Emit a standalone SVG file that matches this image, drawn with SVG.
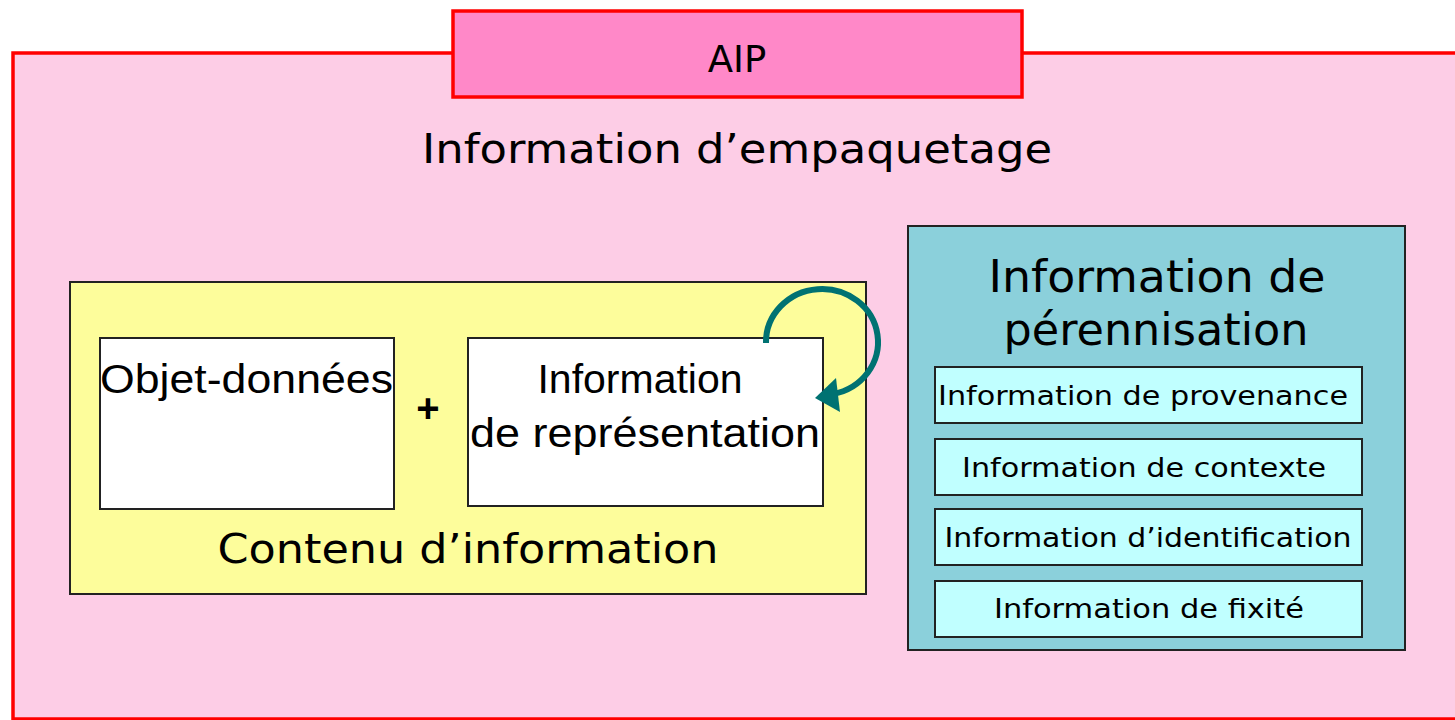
<svg xmlns="http://www.w3.org/2000/svg" width="1455" height="720" viewBox="0 0 1455 720">
<style>
.v{font-family:"DejaVu Sans","Verdana",sans-serif;fill:#000}
.a{font-family:"Liberation Sans","Arial",sans-serif;fill:#000}
.box{stroke:#222;stroke-width:2}
.sub{fill:#c0ffff;stroke:#222;stroke-width:2}
</style>
<defs>
<marker id="ah" markerWidth="8" markerHeight="8" refX="4" refY="4" orient="auto" markerUnits="userSpaceOnUse" viewBox="0 0 8 8">
<path d="M0,0 L8,4 L0,8 z" fill="#007272"/>
</marker>
</defs>
<rect width="1455" height="720" fill="#fff"/>
<g id="aip-package">
<rect x="13" y="53" width="1460" height="666" fill="#fdcde6" stroke="#ff0000" stroke-width="3.5"/>
<text class="v" x="737" y="163" font-size="40" text-anchor="middle" textLength="630" lengthAdjust="spacingAndGlyphs">Information d’empaquetage</text>
</g>
<g id="aip-title">
<rect x="453" y="11" width="569" height="86" fill="#ff88c8" stroke="#ff0000" stroke-width="3.5"/>
<text class="v" x="737" y="72" font-size="37" text-anchor="middle">AIP</text>
</g>
<g id="contenu">
<rect class="box" x="70" y="282" width="796" height="312" fill="#fdfd9b"/>
<text class="v" x="468" y="563" font-size="40" text-anchor="middle" textLength="501" lengthAdjust="spacingAndGlyphs">Contenu d’information</text>
</g>
<g id="objet">
<rect class="box" x="100" y="338" width="294" height="171" fill="#fff"/>
<text class="a" x="100" y="393" font-size="41" textLength="293" lengthAdjust="spacingAndGlyphs">Objet-données</text>
</g>
<text class="a" x="428" y="422" font-size="40" font-weight="bold" text-anchor="middle">+</text>
<g id="representation">
<rect class="box" x="468" y="338" width="355" height="168" fill="#fff"/>
<text class="a" x="640" y="393" font-size="41" text-anchor="middle">Information</text>
<text class="a" x="645" y="447" font-size="41" text-anchor="middle" textLength="350" lengthAdjust="spacingAndGlyphs">de représentation</text>
</g>
<g id="connectors">
<path d="M766,343 A56,53 0 1 1 833,394" fill="none" stroke="#007272" stroke-width="6" marker-end="url(#ah)"/>
<path d="M815,398 L836,378 L840,412 z" fill="#007272"/>
</g>
<g id="perennisation">
<rect class="box" x="908" y="226" width="497" height="424" fill="#8bd0db"/>
<text class="v" x="1157" y="292" font-size="44" text-anchor="middle" textLength="337" lengthAdjust="spacingAndGlyphs">Information de</text>
<text class="v" x="1156" y="345" font-size="44" text-anchor="middle" textLength="305" lengthAdjust="spacingAndGlyphs">pérennisation</text>
</g>
<g id="provenance">
<rect class="sub" x="935" y="367" width="427" height="56"/>
<text class="v" x="1143" y="405" font-size="26" text-anchor="middle" textLength="410" lengthAdjust="spacingAndGlyphs">Information de provenance</text>
</g>
<g id="contexte">
<rect class="sub" x="935" y="439" width="427" height="56"/>
<text class="v" x="1144" y="477" font-size="26" text-anchor="middle" textLength="364" lengthAdjust="spacingAndGlyphs">Information de contexte</text>
</g>
<g id="identification">
<rect class="sub" x="935" y="509" width="427" height="56"/>
<text class="v" x="1148" y="547" font-size="26" text-anchor="middle" textLength="407" lengthAdjust="spacingAndGlyphs">Information d’identification</text>
</g>
<g id="fixite">
<rect class="sub" x="935" y="581" width="427" height="56"/>
<text class="v" x="1149" y="618" font-size="26" text-anchor="middle" textLength="310" lengthAdjust="spacingAndGlyphs">Information de fixité</text>
</g>
</svg>
